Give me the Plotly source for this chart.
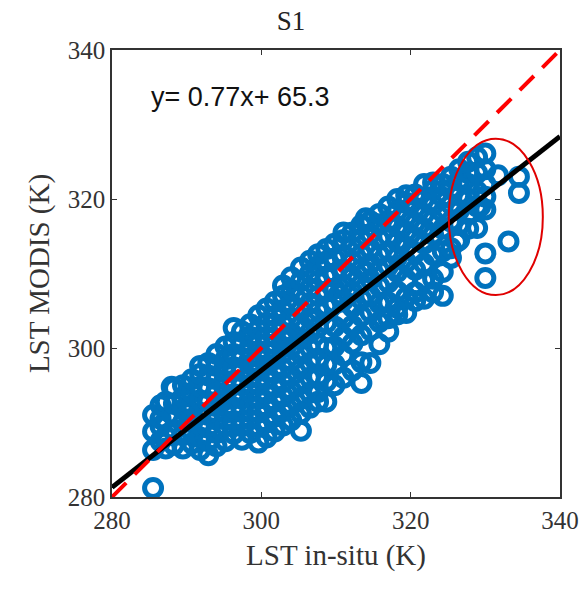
import plotly.graph_objects as go

# ---- data ----
lst_insitu = [
    285.5, 285.5, 285.5, 285.5,
    286.5, 286.5, 286.5, 286.5,
    287.2, 287.2, 287.2, 288.0,
    288.3, 288.3, 288.3, 288.3, 288.3,
    289.5, 289.5, 289.5, 289.5, 289.5, 289.5,
    290.7, 290.7, 290.7, 290.7, 290.7, 290.7,
    291.8, 291.8, 291.8, 291.8, 291.8, 291.8, 291.8, 291.8,
    292.9, 292.9, 292.9, 292.9, 292.9, 292.9, 292.9, 292.9,
    294.0, 294.0, 294.0, 294.0, 294.0, 294.0, 294.0, 294.0,
    295.2, 295.2, 295.2, 295.2, 295.2, 295.2, 295.2, 295.2,
    296.3, 296.3, 296.3, 296.3, 296.3, 296.3, 296.3, 296.3, 296.3,
    297.4, 297.4, 297.4, 297.4, 297.4, 297.4, 297.4, 297.4, 297.4,
    298.5, 298.5, 298.5, 298.5, 298.5, 298.5, 298.5, 298.5, 298.5,
    299.6, 299.6, 299.6, 299.6, 299.6, 299.6, 299.6, 299.6, 299.6, 299.6,
    300.7, 300.7, 300.7, 300.7, 300.7, 300.7, 300.7, 300.7, 300.7, 300.7,
    301.8, 301.8, 301.8, 301.8, 301.8, 301.8, 301.8, 301.8, 301.8, 301.8,
    302.9, 302.9, 302.9, 302.9, 302.9, 302.9, 302.9, 302.9, 302.9, 302.9, 302.9,
    304.0, 304.0, 304.0, 304.0, 304.0, 304.0, 304.0, 304.0, 304.0, 304.0, 304.0,
    305.3, 305.3, 305.3, 305.3, 305.3, 305.3, 305.3, 305.3, 305.3, 305.3, 305.3, 305.3,
    306.5, 306.5, 306.5, 306.5, 306.5, 306.5, 306.5, 306.5, 306.5, 306.5, 306.5,
    307.6, 307.6, 307.6, 307.6, 307.6, 307.6, 307.6, 307.6, 307.6, 307.6, 307.6,
    308.7, 308.7, 308.7, 308.7, 308.7, 308.7, 308.7, 308.7, 308.7, 308.7,
    309.8, 309.8, 309.8, 309.8, 309.8, 309.8, 309.8, 309.8, 309.8,
    311.0, 311.0, 311.0, 311.0, 311.0, 311.0, 311.0, 311.0, 311.0, 311.0,
    312.2, 312.2, 312.2, 312.2, 312.2, 312.2, 312.2, 312.2, 312.2,
    313.4, 313.4, 313.4, 313.4, 313.4, 313.4, 313.4, 313.4, 313.4, 313.4, 314.0,
    314.6, 314.6, 314.6, 314.6, 314.6, 314.6, 314.6, 314.6, 314.6,
    315.8, 315.8, 315.8, 315.8, 315.8, 315.8, 315.8, 315.8, 315.8,
    317.0, 317.0, 317.0, 317.0, 317.0, 317.0, 317.0, 317.0, 317.0,
    318.2, 318.2, 318.2, 318.2, 318.2, 318.2, 318.2, 318.2, 318.2,
    319.4, 319.4, 319.4, 319.4, 319.4, 319.4, 319.4, 319.4, 319.4,
    320.6, 320.6, 320.6, 320.6, 320.6, 320.6, 320.6, 320.6,
    321.8, 321.8, 321.8, 321.8, 321.8, 321.8, 321.8, 321.8,
    323.0, 323.0, 323.0, 323.0, 323.0, 323.0, 323.0, 323.0,
    324.3, 324.3, 324.3, 324.3, 324.3, 324.3, 324.3,
    325.4, 325.4, 325.4, 325.4, 325.4, 325.4, 326.2,
    326.5, 326.5, 326.5, 326.5, 326.5, 326.5,
    327.7, 327.7, 327.7, 327.7, 327.7, 327.7,
    328.9, 328.9, 328.9, 328.9, 328.9, 329.3,
    330.0, 330.0, 330.0, 330.0, 330.0, 330.0, 330.0,
    331.7, 333.1, 334.5, 334.5,
    294.6, 299.0, 303.4, 307.0, 310.4, 314.0,
]
lst_modis = [
    281.2, 286.3, 288.8, 291.0,
    287.5, 289.5, 290.5, 292.3,
    286.5, 288.2, 292.8, 294.8,
    287.0, 289.0, 290.8, 292.5, 294.6,
    286.5, 288.3, 290.0, 291.7, 293.4, 295.0,
    287.2, 288.8, 290.5, 292.3, 294.0, 295.8,
    286.3, 288.0, 289.7, 291.3, 293.0, 294.8, 296.5, 297.6,
    285.6, 287.5, 289.3, 291.0, 292.8, 294.6, 296.3, 298.0,
    286.8, 288.6, 290.4, 292.2, 294.0, 295.8, 297.6, 299.2,
    287.5, 289.5, 291.3, 293.1, 294.9, 296.7, 298.5, 300.2,
    288.5, 290.2, 292.0, 293.8, 295.6, 297.4, 299.2, 300.8, 302.7,
    287.7, 289.5, 291.4, 293.2, 295.0, 296.9, 298.7, 300.5, 302.2,
    288.6, 290.4, 292.3, 294.1, 296.0, 297.8, 299.6, 301.5, 303.2,
    287.3, 289.4, 291.3, 293.2, 295.0, 296.9, 298.8, 300.6, 302.5, 304.4,
    288.0, 290.0, 292.0, 293.9, 295.8, 297.7, 299.6, 301.5, 303.4, 305.3,
    288.8, 290.8, 292.8, 294.7, 296.6, 298.5, 300.5, 302.4, 304.3, 306.2,
    289.6, 291.5, 293.5, 295.4, 297.3, 299.3, 301.2, 303.2, 305.1, 307.0, 308.4,
    290.3, 292.3, 294.3, 296.2, 298.2, 300.1, 302.0, 304.0, 305.9, 307.8, 309.5,
    288.9, 291.2, 293.2, 295.2, 297.2, 299.2, 301.2, 303.1, 305.1, 307.1, 309.0, 310.8,
    292.0, 294.0, 296.0, 298.0, 300.0, 302.0, 304.0, 306.0, 308.0, 310.0, 311.7,
    292.8, 294.1, 296.2, 298.6, 300.5, 302.8, 305.0, 307.0, 309.0, 311.0, 312.6,
    292.8, 295.5, 297.8, 300.0, 303.4, 305.6, 307.6, 309.6, 311.6, 313.3,
    295.0, 297.8, 300.2, 302.9, 306.0, 308.0, 310.0, 312.0, 314.0,
    296.0, 299.0, 301.5, 304.0, 306.4, 308.5, 310.5, 312.5, 314.5, 315.5,
    297.0, 300.6, 303.0, 305.5, 307.5, 309.6, 311.6, 313.6, 315.5,
    295.3, 298.1, 301.7, 304.3, 306.5, 308.6, 310.6, 312.6, 314.6, 316.5, 317.4,
    298.0, 302.4, 304.8, 307.0, 309.2, 311.3, 313.3, 315.3, 317.0,
    300.5, 303.5, 306.0, 308.3, 310.4, 312.5, 314.6, 316.6, 318.0,
    302.2, 304.0, 306.1, 308.8, 311.0, 313.0, 315.0, 317.0, 319.0,
    304.5, 305.4, 307.6, 310.2, 312.2, 314.3, 316.3, 318.4, 320.0,
    304.7, 306.8, 309.2, 311.5, 313.6, 315.6, 317.6, 319.5, 320.5,
    306.3, 307.5, 310.5, 312.8, 314.8, 316.8, 318.8, 320.6,
    306.6, 309.1, 311.3, 314.0, 316.0, 318.0, 320.0, 322.0,
    307.5, 309.3, 312.5, 315.2, 317.2, 319.2, 321.2, 322.2,
    307.0, 310.2, 313.0, 316.0, 318.2, 320.2, 322.0,
    312.1, 313.4, 317.0, 319.3, 321.3, 323.0, 314.3,
    314.5, 316.5, 318.5, 320.5, 322.5, 324.0,
    316.0, 318.0, 320.0, 322.0, 323.5, 325.0,
    316.1, 321.0, 323.5, 325.6, 319.0, 319.0,
    309.4, 312.7, 318.6, 320.3, 322.0, 324.0, 326.1,
    323.2, 314.3, 320.8, 323.0,
    293.0, 297.9, 301.3, 303.8, 307.2, 310.2,
]

one_to_one_x = [280, 340]
one_to_one_y = [280, 340]
fit_x = [280, 340]
fit_y = [281.3, 328.4]
fit_label = "y= 0.77x+ 65.3"
ellipse_x = [325.1, 337.7]
ellipse_y = [307.1, 328.1]
axis_ticks = [280, 300, 320, 340]

blue = "#0072BD"
serif = "Liberation Serif, Times New Roman, serif"

fig = go.Figure()
fig.add_trace(go.Scatter(
    x=lst_insitu, y=lst_modis, mode="markers",
    marker=dict(symbol="circle-open", size=17, color=blue,
                line=dict(width=5, color=blue)),
    showlegend=False, hoverinfo="skip"))
fig.add_trace(go.Scatter(
    x=fit_x, y=fit_y, mode="lines",
    line=dict(color="black", width=5), showlegend=False))
fig.add_trace(go.Scatter(
    x=one_to_one_x, y=one_to_one_y, mode="lines",
    line=dict(color="#FF0000", width=4, dash="20px,12px"), showlegend=False))

fig.add_shape(type="circle", xref="x", yref="y",
              x0=ellipse_x[0], x1=ellipse_x[1], y0=ellipse_y[0], y1=ellipse_y[1],
              line=dict(color="#E00000", width=2))

fig.add_annotation(x=285.0, y=333.7, xref="x", yref="y", text=fit_label,
                   showarrow=False, xanchor="left", yanchor="middle",
                   font=dict(family="Liberation Sans, Arial, sans-serif", size=27, color="#111111"))

axis_common = dict(
    range=[280, 340], tickvals=axis_ticks, ticktext=[str(t) for t in axis_ticks],
    showgrid=False, zeroline=False, showline=True, linecolor="#333333", linewidth=1.5,
    mirror="ticks", ticks="inside", ticklen=5, tickwidth=1, tickcolor="#333333",
    tickfont=dict(family=serif, size=25, color="#333333"), automargin=False,
)
fig.update_xaxes(**axis_common,
                 title=dict(text="LST in-situ (K)", font=dict(family=serif, size=29, color="#333333"), standoff=12))
fig.update_yaxes(**axis_common,
                 title=dict(text="LST MODIS (K)", font=dict(family=serif, size=29, color="#333333"), standoff=10))

fig.update_layout(
    width=582, height=589,
    margin=dict(l=112, r=22, t=50, b=92, autoexpand=False),
    paper_bgcolor="white", plot_bgcolor="white",
    title=dict(text="S1", x=0.5, xanchor="center", y=0.965, yanchor="middle",
               font=dict(family=serif, size=27, color="#222222")),
)

fig.write_html("out.html")
